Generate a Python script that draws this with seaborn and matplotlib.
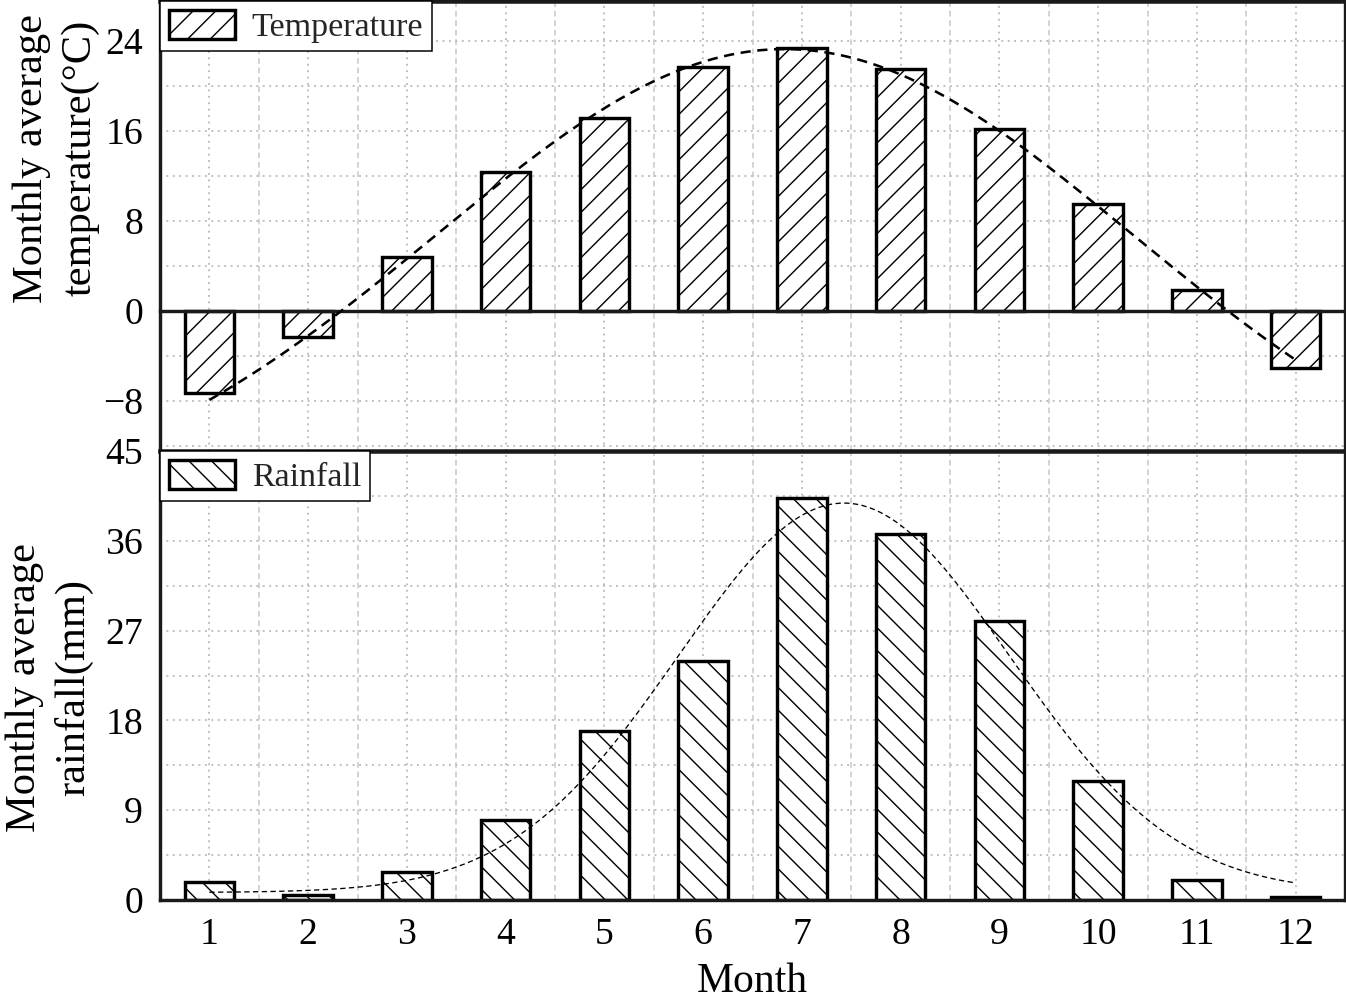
import numpy as np
import pandas as pd
import matplotlib
matplotlib.use("Agg")
import matplotlib.pyplot as plt
from matplotlib.ticker import MultipleLocator, FixedLocator
import seaborn as sns

# ---------------- data ----------------
months = [1, 2, 3, 4, 5, 6, 7, 8, 9, 10, 11, 12]
temperature = [-7.3, -2.3, 4.8, 12.4, 17.2, 21.7, 23.4, 21.5, 16.2, 9.5, 1.9, -5.1]
rainfall = [1.8, 0.5, 2.8, 8.0, 16.9, 24.0, 40.3, 36.7, 28.0, 11.9, 2.0, 0.3]
temp_ticks = [-8, 0, 8, 16, 24]
rain_ticks = [0, 9, 18, 27, 36, 45]
temp_label = "Monthly average\ntemperature(\u00b0C)"
rain_label = "Monthly average\nrainfall(mm)"
x_label = "Month"
legend_temp = "Temperature"
legend_rain = "Rainfall"


def gauss_fit(x, y):
    """Least-squares Gaussian fit y = y0 + A*exp(-(x-xc)^2/(2w^2))."""
    x = np.asarray(x, float)
    y = np.asarray(y, float)
    xcs = np.linspace(x.min(), x.max(), 441)
    ws = np.linspace(0.5, 8.0, 376)
    G = np.exp(-(x[None, None, :] - xcs[:, None, None]) ** 2
               / (2 * ws[None, :, None] ** 2))
    gm = G.mean(-1, keepdims=True)
    ym = y.mean()
    A = ((G - gm) * (y - ym)).sum(-1) / ((G - gm) ** 2).sum(-1)
    y0 = ym - A * gm[..., 0]
    sse = ((y - (y0[..., None] + A[..., None] * G)) ** 2).sum(-1)
    i, j = np.unravel_index(np.argmin(sse), sse.shape)
    return y0[i, j], A[i, j], xcs[i], ws[j]


def gauss_curve(params, xs):
    y0, A, xc, w = params
    return y0 + A * np.exp(-(xs - xc) ** 2 / (2 * w ** 2))


df = pd.DataFrame({"month": months, "temp": temperature, "rain": rainfall})

# ---------------- style ----------------
DPI = 136
sns.set_theme(style="white")
plt.rcParams["font.family"] = ["Liberation Serif", "DejaVu Serif"]
plt.rcParams["hatch.linewidth"] = 0.75
plt.rcParams["axes.unicode_minus"] = True

fig = plt.figure(figsize=(1346 / DPI, 1005 / DPI), dpi=DPI)
fig.patch.set_facecolor("white")

L = 160 / 1346
W = (1345 - 160) / 1346
ax1 = fig.add_axes([L, (1005 - 451) / 1005, W, 450 / 1005])
ax2 = fig.add_axes([L, (1005 - 900) / 1005, W, 449 / 1005])

GRID = "#bdbdbd"
SPINE_LW = 1.8
TICK_FS = 20
LABEL_FS = 22.5
LEG_FS = 18

xs = np.linspace(1, 12, 400)

for ax, col, hatch, ylim, ticks, minor, lab, lcoords, legtxt, curve_lw in [
    (ax1, "temp", "//", (-12.44, 27.56), temp_ticks, 4, temp_label, (-0.051, 0.651), legend_temp, 1.35),
    (ax2, "rain", "\\\\", (0, 45), rain_ticks, 4.5, rain_label, (-0.0565, 0.474), legend_rain, 0.7),
]:
    ax.set_facecolor("white")
    ax.set_axisbelow(True)
    sns.barplot(data=df, x="month", y=col, native_scale=True, width=0.5,
                color="white", saturation=1, edgecolor="black",
                linewidth=SPINE_LW, hatch=hatch, errorbar=None, ax=ax,
                zorder=2)
    params = gauss_fit(months, df[col].values)
    ax.plot(xs, gauss_curve(params, xs), color="black", lw=curve_lw,
            linestyle=(0, (4, 2.6)), zorder=3)

    ax.set_xlim(0.5, 12.5)
    ax.set_ylim(*ylim)
    ax.xaxis.set_major_locator(FixedLocator(months))
    ax.xaxis.set_minor_locator(FixedLocator(np.arange(0.5, 13, 1.0)))
    ax.yaxis.set_major_locator(FixedLocator(ticks))
    ax.yaxis.set_minor_locator(MultipleLocator(minor))

    ax.grid(which="major", axis="both", color=GRID, lw=1.0,
            linestyle=(0, (1, 2.4)))
    ax.yaxis.grid(which="minor", color=GRID, lw=1.0, linestyle=(0, (1, 2.4)))
    ax.xaxis.grid(which="minor", color="#d2d2d2", lw=1.0, linestyle=(0, (3, 2)))

    ax.tick_params(axis="both", which="both", direction="in", colors="black",
                   width=1.6, labelsize=TICK_FS, right=False, top=False)
    ax.tick_params(axis="y", which="major", length=8, pad=9)
    ax.tick_params(axis="y", which="minor", length=3.8)
    ax.tick_params(axis="x", which="major", length=5.3, pad=9)
    ax.tick_params(axis="x", which="minor", length=2.2)

    for s in ax.spines.values():
        s.set_linewidth(SPINE_LW)
        s.set_color("#1a1a1a")
        s.set_visible(True)

    ax.set_ylabel(lab, fontsize=LABEL_FS, linespacing=1.35, color="black")
    ax.yaxis.set_label_coords(*lcoords)

    bar_handle = ax.patches[0]
    leg = ax.legend([bar_handle], [legtxt], loc="upper left",
                    bbox_to_anchor=(0, 1), borderaxespad=0.0,
                    fontsize=LEG_FS, frameon=True, fancybox=False,
                    edgecolor="black", framealpha=1, handlelength=1.95,
                    handleheight=0.95, handletextpad=0.5, borderpad=0.25)
    leg.get_frame().set_linewidth(0.8)
    leg.set_zorder(5)

# top panel: horizontal axis at zero, no labels
ax1.spines["bottom"].set_position(("data", 0))
ax1.spines["top"].set_linewidth(2.4)
ax1.tick_params(axis="x", labelbottom=False)
ax1.set_xlabel("")

ax2.spines["top"].set_linewidth(2.4)
ax2.set_xlabel(x_label, fontsize=22, labelpad=6, color="black")
ax2.set_yticklabels([str(t) for t in rain_ticks])

fig.savefig("out.png", dpi=DPI, facecolor="white")
